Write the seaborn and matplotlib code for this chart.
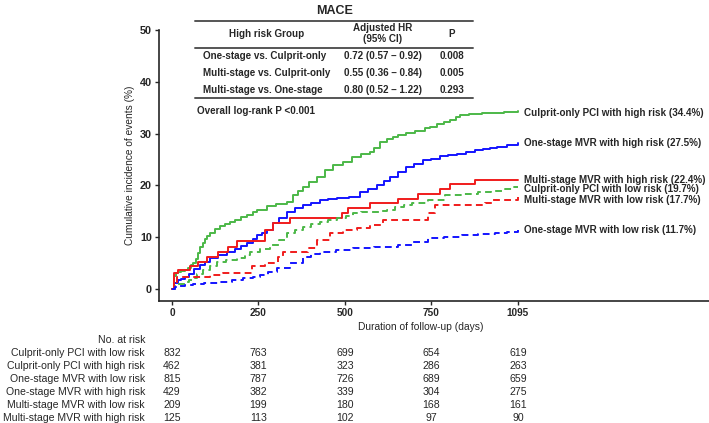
import numpy as np
import pandas as pd
import matplotlib
matplotlib.use("Agg")
import matplotlib.pyplot as plt
import matplotlib.transforms as mtransforms
from matplotlib.lines import Line2D
import seaborn as sns

# curves (days, cumulative %)
culprit_hi_t = [0, 5, 12, 19, 30, 41, 52, 60, 66, 75, 82, 89, 97, 105, 112, 120, 135, 152, 168, 184,
                200, 218, 237, 255, 270, 300, 330, 364, 383, 400, 415, 435, 459, 484, 510, 540, 570, 600,
                627, 640, 658, 680, 700, 715, 740, 770, 800, 817, 840, 860, 880, 900, 912, 940, 980, 1006,
                1050, 1095]
culprit_hi_v = [0, 2.5, 3.1, 3.3, 3.5, 3.7, 4.1, 4.6, 5.0, 5.9, 7.0, 8.1, 8.9, 9.6, 10.2, 10.8, 11.5, 12.1,
                12.6, 12.9, 13.4, 13.9, 14.3, 14.9, 15.3, 16.0, 16.4, 16.8, 18.1, 19.0, 19.7, 20.6, 21.6,
                23.0, 23.9, 24.6, 25.4, 26.0, 26.4, 27.3, 28.4, 28.9, 29.3, 29.7, 30.1, 30.6, 31.0, 31.3,
                31.8, 32.2, 32.6, 33.2, 33.6, 33.8, 33.9, 34.0, 34.2, 34.4]

onestage_hi_t = [0, 6, 19, 30, 41, 55, 70, 89, 105, 120, 145, 174, 200, 220, 237, 255, 269, 285, 301, 320,
                 340, 364, 390, 415, 440, 468, 495, 522, 560, 595, 620, 649, 670, 690, 715, 740, 765, 794,
                 820, 850, 875, 902, 930, 960, 985, 1006, 1030, 1060, 1095]
onestage_hi_v = [0, 1.2, 1.7, 2.0, 2.3, 3.0, 3.8, 4.6, 5.3, 6.0, 6.6, 7.1, 7.7, 8.3, 8.9, 9.6, 10.4, 10.9,
                 11.4, 12.7, 13.8, 14.9, 15.6, 16.2, 16.7, 17.2, 17.4, 17.6, 17.8, 18.7, 19.3, 20.1, 20.9,
                 21.6, 22.6, 23.5, 24.2, 24.9, 25.2, 25.6, 25.9, 26.1, 26.4, 26.8, 27.0, 27.2, 27.5, 27.9, 28.2]

multi_hi_t = [0, 6, 19, 57, 82, 111, 146, 177, 206, 294, 320, 373, 538, 557, 627, 715, 779, 848, 880, 959, 1095]
multi_hi_v = [0, 3.1, 3.7, 4.4, 5.2, 6.2, 7.1, 8.1, 9.3, 11.4, 12.7, 13.7, 14.7, 15.6, 16.6, 17.4, 18.3,
              19.3, 20.3, 21.0, 21.0]

culprit_lo_t = [0, 10, 20, 41, 55, 66, 80, 98, 120, 142, 170, 206, 230, 247, 280, 310, 340, 364, 390, 415,
                440, 468, 495, 522, 550, 573, 600, 627, 655, 680, 705, 735, 760, 810, 864, 920, 969, 1010,
                1054, 1080, 1095]
culprit_lo_v = [0, 0.6, 0.9, 1.3, 1.7, 2.1, 2.9, 3.7, 4.5, 5.2, 5.7, 6.0, 6.6, 7.1, 7.8, 8.5, 9.5, 10.8,
                11.4, 12.0, 12.5, 12.9, 13.3, 13.7, 14.2, 14.7, 14.8, 14.9, 15.1, 15.3, 15.8, 16.2, 16.6,
                17.2, 18.1, 18.4, 18.7, 19.0, 19.3, 19.7, 19.7]

multi_lo_t = [0, 8, 15, 120, 161, 253, 294, 335, 351, 430, 459, 500, 541, 585, 627, 668, 810, 832, 991, 1013, 1095]
multi_lo_v = [0, 1.2, 2.3, 2.7, 3.1, 4.4, 5.0, 6.2, 7.1, 7.9, 9.5, 10.8, 11.4, 11.8, 12.4, 13.3, 14.7,
              16.2, 16.6, 17.2, 17.8]

onestage_lo_t = [0, 10, 20, 40, 66, 100, 152, 190, 225, 255, 279, 305, 332, 373, 415, 440, 468, 520, 573,
                 640, 715, 760, 810, 860, 918, 970, 1022, 1060, 1095]
onestage_lo_v = [0, 0.4, 0.6, 0.8, 1.0, 1.2, 1.4, 1.7, 2.1, 2.4, 2.7, 3.3, 4.1, 5.0, 6.2, 6.7, 7.1, 7.5,
                 7.9, 8.2, 8.5, 9.1, 9.8, 10.1, 10.4, 10.6, 10.8, 11.1, 11.4]

curve_names = ["Culprit-only PCI with high risk (34.4%)", "One-stage MVR with high risk (27.5%)",
               "Multi-stage MVR with high risk (22.4%)", "Culprit-only PCI with low risk (19.7%)",
               "Multi-stage MVR with low risk (17.7%)", "One-stage MVR with low risk (11.7%)"]
curves = [(culprit_hi_t, culprit_hi_v), (onestage_hi_t, onestage_hi_v), (multi_hi_t, multi_hi_v),
          (culprit_lo_t, culprit_lo_v), (multi_lo_t, multi_lo_v), (onestage_lo_t, onestage_lo_v)]
curve_colors = ["#4cb848", "#1414ff", "#f01c1c", "#4cb848", "#f01c1c", "#1414ff"]
curve_dashed = [False, False, False, True, True, True]
label_y = [34.0, 28.2, 21.0, 19.3, 17.2, 11.4]

# HR table
hr_rows = ["One-stage vs. Culprit-only", "Multi-stage vs. Culprit-only", "Multi-stage vs. One-stage"]
hr_vals = ["0.72 (0.57 \u2013 0.92)", "0.55 (0.36 \u2013 0.84)", "0.80 (0.52 \u2013 1.22)"]
hr_p = ["0.008", "0.005", "0.293"]

# number at risk
risk_groups = ["Culprit-only PCI with low risk", "Culprit-only PCI with high risk",
               "One-stage MVR with low risk", "One-stage MVR with high risk",
               "Multi-stage MVR with low risk", "Multi-stage MVR with high risk"]
risk_counts = [[832, 763, 699, 654, 619],
               [462, 381, 323, 286, 263],
               [815, 787, 726, 689, 659],
               [429, 382, 339, 304, 275],
               [209, 199, 180, 168, 161],
               [125, 113, 102, 97, 90]]
xtick_labels = ["0", "250", "500", "750", "1095"]
ytick_vals = [0, 10, 20, 30, 40, 50]

sns.set_style("ticks")
plt.rcParams['font.family'] = ['Liberation Sans', 'DejaVu Sans']

rows = []
for name, (t, v) in zip(curve_names, curves):
    for ti, vi in zip(t, v):
        rows.append({"time": ti, "pct": vi, "group": name})
df = pd.DataFrame(rows)

W, H = 709, 423
fig = plt.figure(figsize=(W / 100, H / 100), dpi=100)
ax = fig.add_axes([159 / W, 1 - 301 / H, 1 - 159 / W, (301 - 30) / H])

pal = dict(zip(curve_names, curve_colors))
dash = {n: ((3.5, 2.2) if d else "") for n, d in zip(curve_names, curve_dashed)}
sns.lineplot(data=df, x="time", y="pct", hue="group", style="group", palette=pal, dashes=dash,
             estimator=None, drawstyle="steps-post", linewidth=1.4, legend=False, ax=ax)

ax.set_xlim(-41, 1700)
ax.set_ylim(-2.3, 50)
ax.set_xticks(np.linspace(0, 1095, len(xtick_labels)))
ax.set_xticklabels(xtick_labels, fontsize=7.2, fontweight="bold")
ax.set_yticks(ytick_vals)
ax.set_yticklabels([str(v) for v in ytick_vals], fontsize=7.8, fontweight="bold")
ax.tick_params(length=3, width=1, pad=2)
ax.set_xlabel("")
ax.set_ylabel("Cumulative incidence of events (%)", fontsize=7.3)
ax.yaxis.set_label_coords((135 - 159) / (W - 159), 0.5)
for s in ["top", "right"]:
    ax.spines[s].set_visible(False)
for s in ["left", "bottom"]:
    ax.spines[s].set_linewidth(1.2)

for name, y in zip(curve_names, label_y):
    ax.text(1114, y, name, fontsize=7.1, fontweight="bold", va="center", ha="left")

fx = lambda px: px / W
fy = lambda py: 1 - py / H

fig.text(fx(335), fy(11), "MACE", fontsize=9, fontweight="bold", ha="center", va="center")

# table lines
for py in [21, 48, 98]:
    fig.add_artist(Line2D([fx(195), fx(473)], [fy(py), fy(py)], color="#555555", lw=1.4))
fs = 7.1
fig.text(fx(267), fy(34), "High risk Group", fontsize=fs, fontweight="bold", ha="center", va="center")
fig.text(fx(383), fy(28), "Adjusted HR", fontsize=fs, fontweight="bold", ha="center", va="center")
fig.text(fx(383), fy(39), "(95% CI)", fontsize=fs, fontweight="bold", ha="center", va="center")
fig.text(fx(452), fy(34), "P", fontsize=fs, fontweight="bold", ha="center", va="center")
for i, (r, hv, p) in enumerate(zip(hr_rows, hr_vals, hr_p)):
    yy = fy(56 + 17 * i)
    fig.text(fx(203), yy, r, fontsize=fs, fontweight="bold", ha="left", va="center")
    fig.text(fx(383), yy, hv, fontsize=fs, fontweight="bold", ha="center", va="center")
    fig.text(fx(452), yy, p, fontsize=fs, fontweight="bold", ha="center", va="center")
fig.text(fx(197), fy(111), "Overall log-rank P <0.001", fontsize=fs, fontweight="bold",
         ha="left", va="center")

fig.text(fx(421), fy(327), "Duration of follow-up (days)", fontsize=7.4, ha="center", va="center")

# number at risk table
rs = 7.6
tr = mtransforms.blended_transform_factory(ax.transData, fig.transFigure)
fig.text(fx(145), fy(340), "No. at risk", fontsize=rs, ha="right", va="center")
xpos = np.linspace(0, 1095, len(xtick_labels))
for i, (g, counts) in enumerate(zip(risk_groups, risk_counts)):
    yy = fy(353 + 13 * i)
    fig.text(fx(145), yy, g, fontsize=rs, ha="right", va="center")
    for xp, c in zip(xpos, counts):
        ax.text(xp, yy, str(c), fontsize=rs, ha="center", va="center", transform=tr, clip_on=False)

fig.savefig("out.png", dpi=100)
